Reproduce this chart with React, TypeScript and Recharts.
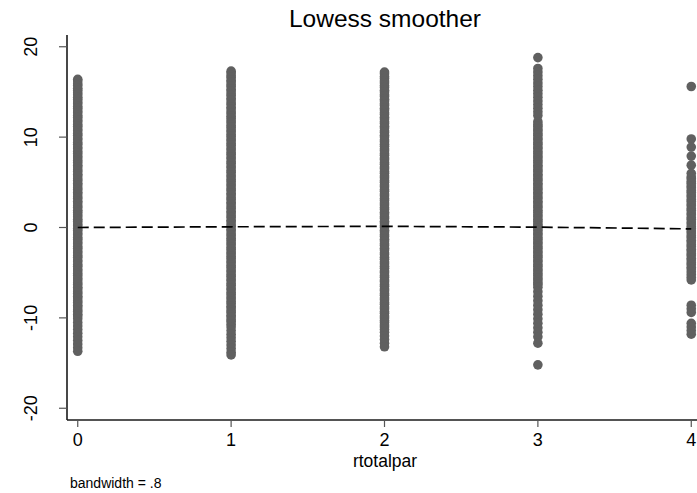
import React from 'react';
import { ScatterChart, Scatter, XAxis, YAxis, Customized } from 'recharts';

// rtotalpar categories and residual values observed at each
const xTicks = [0, 1, 2, 3, 4];
const yTicks = [-20, -10, 0, 10, 20];

const residRtp0 = [16.4, 16.2, 15.9, 15.7, 15.4, 15.2, 14.9, 14.7, 14.4, 14.2, 13.9, 13.7, 13.4, 13.2, 12.9, 12.7, 12.4, 12.2, 11.9, 11.7, 11.4, 11.2, 10.9, 10.7, 10.4, 10.2, 9.9, 9.7, 9.4, 9.2, 8.9, 8.7, 8.4, 8.2, 7.9, 7.7, 7.4, 7.2, 6.9, 6.7, 6.4, 6.2, 5.9, 5.7, 5.4, 5.2, 4.9, 4.7, 4.4, 4.2, 3.9, 3.7, 3.4, 3.2, 2.9, 2.7, 2.4, 2.2, 1.9, 1.7, 1.4, 1.2, 0.9, 0.7, 0.4, 0.2, -0.1, -0.3, -0.6, -0.8, -1.1, -1.3, -1.6, -1.8, -2.1, -2.3, -2.6, -2.8, -3.1, -3.3, -3.6, -3.8, -4.1, -4.3, -4.6, -4.8, -5.1, -5.3, -5.6, -5.8, -6.1, -6.3, -6.6, -6.8, -7.1, -7.3, -7.6, -7.8, -8.1, -8.3, -8.6, -8.8, -9.1, -9.3, -9.6, -9.8, -10.1, -10.5, -10.9, -11.3, -11.7, -12.1, -12.5, -12.9, -13.3, -13.7];
const residRtp1 = [17.3, 17.1, 16.8, 16.6, 16.3, 16.1, 15.8, 15.6, 15.3, 15.1, 14.8, 14.6, 14.3, 14.1, 13.8, 13.6, 13.3, 13.1, 12.8, 12.6, 12.3, 12.1, 11.8, 11.6, 11.3, 11.1, 10.8, 10.6, 10.3, 10.1, 9.8, 9.6, 9.3, 9.1, 8.8, 8.6, 8.3, 8.1, 7.8, 7.6, 7.3, 7.1, 6.8, 6.6, 6.3, 6.1, 5.8, 5.6, 5.3, 5.1, 4.8, 4.6, 4.3, 4.1, 3.8, 3.6, 3.3, 3.1, 2.8, 2.6, 2.3, 2.1, 1.8, 1.6, 1.3, 1.1, 0.8, 0.6, 0.3, 0.1, -0.2, -0.4, -0.7, -0.9, -1.2, -1.4, -1.7, -1.9, -2.2, -2.4, -2.7, -2.9, -3.2, -3.4, -3.7, -3.9, -4.2, -4.4, -4.7, -4.9, -5.2, -5.4, -5.7, -5.9, -6.2, -6.4, -6.7, -6.9, -7.2, -7.4, -7.7, -7.9, -8.2, -8.4, -8.7, -8.9, -9.2, -9.4, -9.7, -9.9, -10.2, -10.4, -10.7, -11.0, -11.4, -11.8, -12.2, -12.6, -13.0, -13.4, -13.8, -14.1];
const residRtp2 = [17.2, 17.0, 16.7, 16.5, 16.2, 16.0, 15.7, 15.5, 15.2, 15.0, 14.7, 14.5, 14.2, 14.0, 13.7, 13.5, 13.2, 13.0, 12.7, 12.5, 12.2, 12.0, 11.7, 11.5, 11.2, 11.0, 10.7, 10.5, 10.2, 10.0, 9.7, 9.5, 9.2, 9.0, 8.7, 8.5, 8.2, 8.0, 7.7, 7.5, 7.2, 7.0, 6.7, 6.5, 6.2, 6.0, 5.7, 5.5, 5.2, 5.0, 4.7, 4.5, 4.2, 4.0, 3.7, 3.5, 3.2, 3.0, 2.7, 2.5, 2.2, 2.0, 1.7, 1.5, 1.2, 1.0, 0.7, 0.5, 0.2, 0.0, -0.3, -0.5, -0.8, -1.0, -1.3, -1.5, -1.8, -2.0, -2.3, -2.5, -2.8, -3.0, -3.3, -3.5, -3.8, -4.0, -4.3, -4.5, -4.8, -5.0, -5.3, -5.5, -5.8, -6.0, -6.3, -6.5, -6.8, -7.0, -7.3, -7.5, -7.8, -8.0, -8.3, -8.5, -8.8, -9.0, -9.3, -9.5, -9.8, -10.0, -10.3, -10.5, -10.8, -11.0, -11.3, -11.6, -12.0, -12.4, -12.8, -13.2];
const residRtp3 = [18.8, 17.6, 17.2, 16.8, 16.4, 16.0, 15.6, 15.2, 14.8, 14.4, 14.0, 13.6, 13.2, 12.8, 12.4, 11.7, 11.4, 11.2, 10.9, 10.7, 10.4, 10.2, 9.9, 9.7, 9.4, 9.2, 8.9, 8.7, 8.4, 8.2, 7.9, 7.7, 7.4, 7.2, 6.9, 6.7, 6.4, 6.2, 5.9, 5.7, 5.4, 5.2, 4.9, 4.7, 4.4, 4.2, 3.9, 3.7, 3.4, 3.2, 2.9, 2.7, 2.4, 2.2, 1.9, 1.7, 1.4, 1.2, 0.9, 0.7, 0.4, 0.2, -0.1, -0.3, -0.6, -0.8, -1.1, -1.3, -1.6, -1.8, -2.1, -2.3, -2.6, -2.8, -3.1, -3.3, -3.6, -3.8, -4.1, -4.3, -4.6, -4.8, -5.1, -5.3, -5.6, -5.8, -6.1, -6.3, -6.6, -7.1, -7.6, -8.1, -8.6, -9.1, -9.6, -10.1, -10.6, -11.1, -11.6, -12.1, -12.8, -15.2];
const residRtp4 = [15.6, 9.8, 8.9, 7.9, 6.9, 6.0, 5.6, 5.4, 5.1, 4.9, 4.6, 4.4, 4.1, 3.9, 3.6, 3.4, 3.1, 2.9, 2.6, 2.4, 2.1, 1.9, 1.6, 1.4, 1.1, 0.9, 0.6, 0.4, 0.1, -0.1, -0.4, -0.6, -0.9, -1.1, -1.4, -1.6, -1.9, -2.1, -2.4, -2.6, -2.9, -3.1, -3.4, -3.6, -3.9, -4.1, -4.4, -4.6, -4.9, -5.2, -5.5, -5.8, -8.6, -9.0, -9.4, -10.6, -11.0, -11.4, -11.8];

// lowess fit evaluated at each rtotalpar value
const lowessFit = [0.0, 0.08, 0.13, 0.04, -0.15];

const residColumns = [residRtp0, residRtp1, residRtp2, residRtp3, residRtp4];
const scatterData = residColumns.flatMap((col, i) =>
  col.map((y) => ({ x: xTicks[i], y }))
);
const lowessData = xTicks.map((x, i) => ({ x, y: lowessFit[i] }));

const FONT = '"Liberation Sans", Arial, Helvetica, sans-serif';
const DOT = '#606060';

const Dot = (props: any) => (
  <circle cx={props.cx} cy={props.cy} r={4.8} fill={DOT} />
);
const NoDot = () => <g />;

const XTick = (props: any) => (
  <text x={props.x} y={props.y} dy={17} textAnchor="middle" fontSize={18} fontFamily={FONT} fill="#000">
    {props.payload.value}
  </text>
);

const YTick = (props: any) => (
  <g transform={`translate(${props.x - 20}, ${props.y}) rotate(-90)`}>
    <text x={0} y={0} textAnchor="middle" fontSize={18} fontFamily={FONT} fill="#000">
      {props.payload.value}
    </text>
  </g>
);

const Texts = () => (
  <g fontFamily={FONT} fill="#000">
    <text x={385} y={27} textAnchor="middle" fontSize={24.5}>Lowess smoother</text>
    <text x={385} y={467} textAnchor="middle" fontSize={17.5}>rtotalpar</text>
    <text x={70} y={488} textAnchor="start" fontSize={14}>bandwidth = .8</text>
  </g>
);

export default function App() {
  return (
    <div style={{ position: 'fixed', left: 0, top: 0, width: 697, height: 493, overflow: 'hidden', background: '#fff' }}>
      <ScatterChart width={720} height={493} margin={{ top: 35, right: 18, bottom: 43, left: 0 }}>
        <XAxis
          type="number"
          dataKey="x"
          domain={[-0.07, 4.07]}
          ticks={xTicks}
          allowDataOverflow
          height={30}
          tickSize={7}
          tick={XTick}
          axisLine={{ stroke: '#1a1a1a', strokeWidth: 1.6 }}
          tickLine={{ stroke: '#555', strokeWidth: 1.2 }}
        />
        <XAxis
          xAxisId="top"
          orientation="top"
          type="number"
          domain={[-0.07, 4.07]}
          height={0}
          tick={false}
          tickLine={false}
          axisLine={{ stroke: '#1a1a1a', strokeWidth: 1.6 }}
        />
        <YAxis
          type="number"
          dataKey="y"
          domain={[-21.3, 21.3]}
          ticks={yTicks}
          allowDataOverflow
          width={67}
          tickSize={8}
          tick={YTick}
          axisLine={{ stroke: '#1a1a1a', strokeWidth: 1.6 }}
          tickLine={{ stroke: '#555', strokeWidth: 1.2 }}
        />
        <Scatter data={scatterData} shape={Dot} isAnimationActive={false} />
        <Scatter
          data={lowessData}
          shape={NoDot}
          line={{ stroke: '#000', strokeWidth: 1.7, strokeDasharray: '11 5' }}
          lineType="joint"
          isAnimationActive={false}
        />
        <Customized component={Texts} />
      </ScatterChart>
    </div>
  );
}
